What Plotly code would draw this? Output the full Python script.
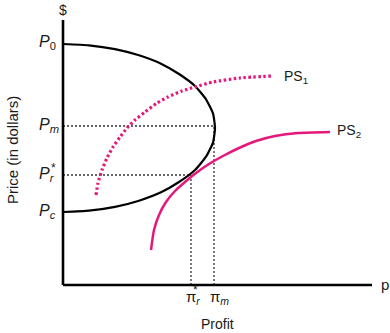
import plotly.graph_objects as go

# ---- data (x = profit, y = price, arbitrary units) ----
price_levels = {"P0": 241, "Pm": 159, "Pr": 110, "Pc": 73}
profit_levels = {"pi_r": 128, "pi_m": 151}

# half-ellipse (price-profit frontier)
curve_x = [0, 26, 52, 76, 98, 116, 132, 143, 150, 152, 150, 143, 132, 116, 98, 76, 52, 26, 0]
curve_y = [241, 239.7, 235.9, 229.7, 221.3, 211, 199, 185.7, 171.6, 157,
           142.4, 128.3, 115, 103, 92.7, 84.3, 78.1, 74.3, 73]

# PS1 (dotted)
ps1_x = [33, 35, 39, 44, 50, 57, 64, 72, 82, 94, 105, 119, 132, 150, 177, 209]
ps1_y = [90, 102, 115, 127, 138, 148, 157, 165, 173, 182, 188, 194, 198, 203, 207, 209]

# PS2 (solid)
ps2_x = [88, 91, 96, 103, 112, 122, 133, 146, 160, 176, 193, 212, 235, 267]
ps2_y = [35, 55, 70, 83, 94, 103, 112, 121, 129, 137, 144, 149, 152, 153]

x_axis_end = 309
y_axis_end = 265

MAG = "#e6177a"
FONT = "Liberation Sans, Arial, sans-serif"

fig = go.Figure()

# guide dotted lines
dot = dict(color="#333333", width=1.3, dash="2px,2px")
fig.add_trace(go.Scatter(x=[0, max(curve_x)], y=[price_levels["Pm"]] * 2, mode="lines", line=dot))
fig.add_trace(go.Scatter(x=[0, profit_levels["pi_r"]], y=[price_levels["Pr"]] * 2, mode="lines", line=dot))
fig.add_trace(go.Scatter(x=[profit_levels["pi_r"]] * 2, y=[0, price_levels["Pr"]], mode="lines", line=dot))
fig.add_trace(go.Scatter(x=[profit_levels["pi_m"]] * 2, y=[0, price_levels["Pm"]], mode="lines", line=dot))

# curves
fig.add_trace(go.Scatter(x=curve_x, y=curve_y, mode="lines",
                         line=dict(color="black", width=2.2, shape="spline", smoothing=0.5)))
fig.add_trace(go.Scatter(x=ps1_x, y=ps1_y, mode="lines",
                         line=dict(color=MAG, width=3.2, shape="spline", smoothing=0.6,
                                   dash="2.5px,2.5px")))
fig.add_trace(go.Scatter(x=ps2_x, y=ps2_y, mode="lines",
                         line=dict(color=MAG, width=2.5, shape="spline", smoothing=0.6)))

# axes lines
fig.add_trace(go.Scatter(x=[0, 0], y=[0, y_axis_end], mode="lines", line=dict(color="black", width=2.6)))
fig.add_trace(go.Scatter(x=[0, x_axis_end], y=[0, 0], mode="lines", line=dict(color="black", width=2.6)))

ann = []
def A(x, y, text, size=14, xanchor="left", yanchor="middle", **kw):
    ann.append(dict(x=x, y=y, xref="x", yref="y", text=text, showarrow=False,
                    xanchor=xanchor, yanchor=yanchor,
                    font=dict(family=FONT, size=size, color="#1a1a1a"), **kw))

# price labels
A(-26, price_levels["P0"], "<i>P</i><sub>0</sub>", size=16, yshift=2)
A(-26, price_levels["Pm"], "<i>P</i><sub><i>m</i></sub>", size=16, yshift=1)
A(-26, price_levels["Pr"], "<i>P</i><sub><i>r</i></sub>", size=16, yshift=1)
A(-10, price_levels["Pr"] + 7, "*", size=12, xanchor="center")
A(-26, price_levels["Pc"], "<i>P</i><sub><i>c</i></sub>", size=16, yshift=1)

# profit labels
A(profit_levels["pi_r"] - 7, -12, "π<sub><i>r</i></sub>", size=15)
A(profit_levels["pi_r"] + 4, -5, "*", size=12, xanchor="center")
A(profit_levels["pi_m"] - 6, -12, "π<sub><i>m</i></sub>", size=15)

# axis symbols and titles
A(0, 275, "$", size=14, xanchor="center")
A(316, 1, "p", size=15)
A(154, -39, "Profit", size=14, xanchor="center")
ann.append(dict(x=-51, y=135, xref="x", yref="y", text="Price (in dollars)", showarrow=False,
                textangle=-90, xanchor="center", yanchor="middle",
                font=dict(family=FONT, size=15, color="#1a1a1a")))

# curve labels
A(ps1_x[-1] + 10, ps1_y[-1] - 1, "PS<sub>1</sub>")
A(ps2_x[-1] + 5, ps2_y[-1] + 1, "PS<sub>2</sub>")

fig.update_layout(
    width=390, height=333,
    margin=dict(l=0, r=0, t=0, b=0),
    paper_bgcolor="white", plot_bgcolor="white",
    showlegend=False,
    annotations=ann,
    xaxis=dict(range=[-63, 327], visible=False, fixedrange=True),
    yaxis=dict(range=[-48, 285], visible=False, fixedrange=True),
)
fig.update_traces(cliponaxis=False, hoverinfo="skip")

fig.write_html("out.html")
